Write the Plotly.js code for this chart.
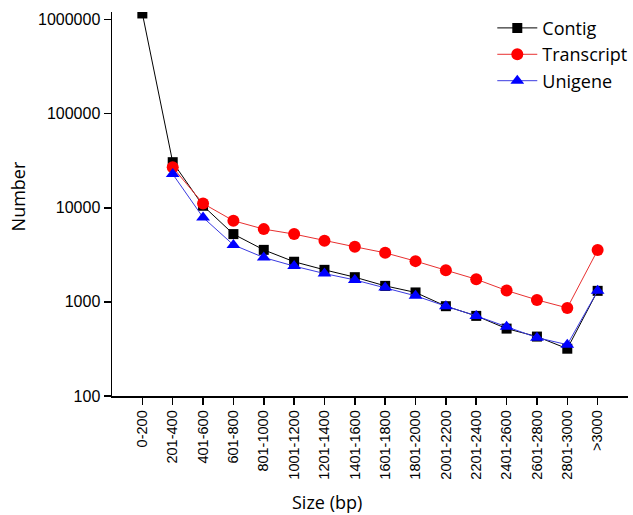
<!DOCTYPE html>
<html>
<head>
<meta charset="utf-8">
<script src="https://cdn.plot.ly/plotly-3.0.1.min.js"></script>
<style>html,body{margin:0;padding:0;background:#fff;}#chart{width:633px;height:515px;}</style>
</head>
<body>
<div id="chart"></div>
<script>
var categories = ["0-200","201-400","401-600","601-800","801-1000","1001-1200","1201-1400","1401-1600","1601-1800","1801-2000","2001-2200","2201-2400","2401-2600","2601-2800","2801-3000",">3000"];
var contig     = [1160000, 30500, 10500, 5250, 3570, 2670, 2190, 1830, 1480, 1260, 900, 710, 520, 428, 318, 1310];
var transcript = [null, 26900, 11100, 7280, 5930, 5250, 4460, 3850, 3320, 2710, 2170, 1740, 1320, 1050, 863, 3550];
var unigene    = [null, 22800, 7890, 4030, 2960, 2400, 2000, 1710, 1420, 1160, 900, 710, 545, 417, 351, 1310];
var yTickVals  = [100, 1000, 10000, 100000, 1000000];
var yTickText  = ["100", "1000", "10000", "100000", "1000000"];

var traces = [
  {x: categories, y: contig, name: "Contig", type: "scatter", mode: "lines+markers",
   line: {color: "#000000", width: 1}, marker: {symbol: "square", size: 10, color: "#000000"}},
  {x: categories, y: transcript, name: "Transcript", type: "scatter", mode: "lines+markers",
   line: {color: "#e83030", width: 1}, marker: {symbol: "circle", size: 12, color: "#ff0000"}},
  {x: categories, y: unigene, name: "Unigene", type: "scatter", mode: "lines+markers",
   line: {color: "#3a3ae0", width: 1}, marker: {symbol: "triangle-up", size: 12, color: "#0000ff"}}
];

var layout = {
  width: 633, height: 515,
  margin: {l: 112, r: 5, t: 12, b: 119, autoexpand: false},
  paper_bgcolor: "#fff", plot_bgcolor: "#fff",
  showlegend: true,
  legend: {x: 0.737, xanchor: "left", y: 1.006, yanchor: "top",
           font: {family: "Open Sans, sans-serif", size: 18, color: "#000"},
           bgcolor: "rgba(0,0,0,0)", itemwidth: 40, tracegroupgap: 0},
  xaxis: {type: "category", range: [-1, 16], showgrid: false, zeroline: false, automargin: false,
          showline: true, linecolor: "#000", linewidth: 1.5,
          ticks: "outside", ticklen: 7, tickwidth: 1.5, tickcolor: "#000",
          tickangle: -90, tickfont: {family: "Liberation Sans, Arial, sans-serif", size: 14.5, color: "#000"}},
  yaxis: {type: "log", range: [2, 6.08], showgrid: false, zeroline: false, automargin: false,
          showline: true, linecolor: "#000", linewidth: 1.5,
          ticks: "outside", ticklen: 7, tickwidth: 1.5, tickcolor: "#000",
          tickvals: yTickVals, ticktext: yTickText,
          tickfont: {family: "Liberation Sans, Arial, sans-serif", size: 16, color: "#000"}},
  annotations: [
    {text: "Number", xref: "paper", yref: "paper", x: -0.182, y: 0.52, xanchor: "center", yanchor: "middle",
     textangle: -90, showarrow: false, font: {family: "Open Sans, sans-serif", size: 18, color: "#000"}},
    {text: "Size (bp)", xref: "paper", yref: "paper", x: 0.416, y: -0.275, xanchor: "center", yanchor: "middle",
     showarrow: false, font: {family: "Open Sans, sans-serif", size: 18, color: "#000"}}
  ]
};

Plotly.newPlot("chart", traces, layout, {displayModeBar: false, staticPlot: true});
</script>
</body>
</html>
